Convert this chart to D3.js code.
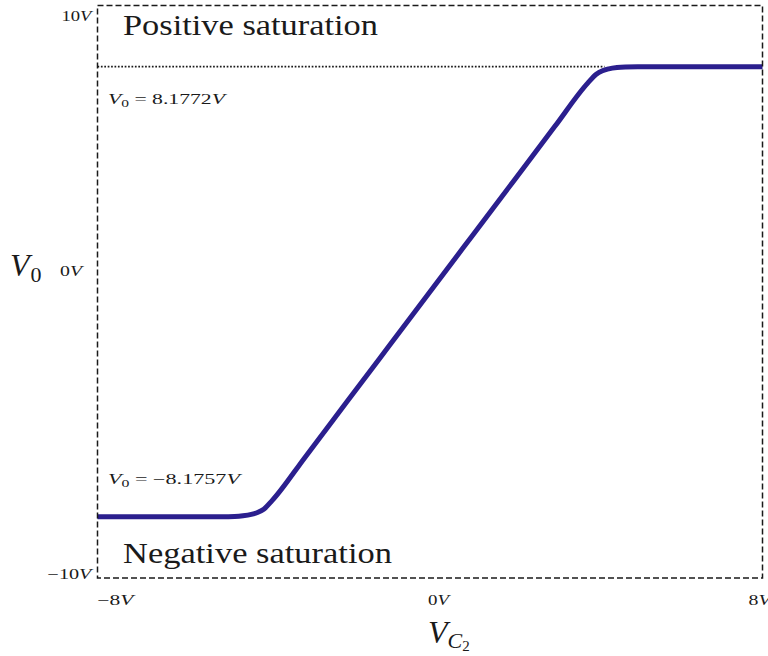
<!DOCTYPE html>
<html>
<head>
<meta charset="utf-8">
<script src="https://cdn.jsdelivr.net/npm/d3@7"></script>
<style>
  html, body { margin: 0; padding: 0; background: #fff; }
  svg { display: block; }
  text { font-family: "Liberation Serif", "DejaVu Serif", serif; fill: #1a1a1a; }
</style>
</head>
<body>
<svg id="chart" width="768" height="656"></svg>
<script>
// Transfer characteristic: input V_C2 (volts) against output V_0 (volts)
const vc2 = [-8, -6, -5, -4.7, -4.5, -4.3, -4.15, -4.0, -3.8, -3, -2, -1, 0, 1, 2, 3, 3.8, 4.0, 4.15, 4.3, 4.5, 4.7, 5, 6, 8];
const v0  = [-8.1757, -8.1757, -8.1757, -8.165, -8.14, -8.09, -8.02, -7.9, -7.59, -6.0, -4.0, -2.0, 0, 2.0, 4.0, 6.0, 7.59, 7.9, 8.03, 8.1, 8.15, 8.17, 8.1772, 8.1772, 8.1772];

const posSat = 8.1772;
const negSat = -8.1757;

const xTicks = [-8, 0, 8];
const xTickLabels = ["\u22128", "0", "8"];
const yTicks = [10, 0, -10];
const yTickLabels = ["10", "0", "\u221210"];

const svg = d3.select("#chart");
const mLeft = 97.5, mRight = 762.5, mTop = 5.5, mBottom = 578;

const x = d3.scaleLinear().domain([-8, 8]).range([mLeft, mRight]);
const y = d3.scaleLinear().domain([-10.4, 10.4]).range([mBottom, mTop]);

const ink = "#1a1a1a";

// Dotted guide at positive saturation level
svg.append("line")
  .attr("x1", x(-8)).attr("x2", x(4.2))
  .attr("y1", y(posSat)).attr("y2", y(posSat))
  .attr("stroke", ink).attr("stroke-width", 1.7)
  .attr("stroke-dasharray", "1.7,1.7");

// Output curve
const pts = vc2.map((d, i) => [d, v0[i]]);
svg.append("path")
  .datum(pts)
  .attr("fill", "none")
  .attr("stroke", "#2b1f8e")
  .attr("stroke-width", 5)
  .attr("stroke-linejoin", "round")
  .attr("d", d3.line().x(d => x(d[0])).y(d => y(d[1])).curve(d3.curveMonotoneX));

// Dashed frame
svg.append("rect")
  .attr("x", mLeft).attr("y", mTop)
  .attr("width", mRight - mLeft).attr("height", mBottom - mTop)
  .attr("fill", "none").attr("stroke", ink)
  .attr("stroke-width", 1.5).attr("stroke-dasharray", "6,3");

// Tick label helper: upright number followed by italic V
function voltLabel(sel, num, size, width) {
  sel.attr("font-size", size)
    .attr("textLength", width).attr("lengthAdjust", "spacingAndGlyphs");
  sel.append("tspan").text(num);
  sel.append("tspan").attr("font-style", "italic").text("V");
}

// Y tick labels
const yOffsets = { "10": 4, "0": -16, "-10": 12 };
const yWidths = { "10": 30, "0": 22, "-10": 44 };
yTicks.forEach((t, i) => {
  const tx = svg.append("text")
    .attr("x", t === 0 ? 60 : mLeft - 6 - yWidths[String(t)])
    .attr("y", y(t) + yOffsets[String(t)])
    .attr("text-anchor", "start");
  voltLabel(tx, yTickLabels[i], 14, yWidths[String(t)]);
});

// X tick labels
const xOffsets = { "-8": 0, "0": -2, "8": -14 };
const xWidths = { "-8": 36, "0": 21, "8": 22 };
xTicks.forEach((t, i) => {
  const tx = svg.append("text")
    .attr("x", x(t) + xOffsets[String(t)])
    .attr("y", 605)
    .attr("text-anchor", "start");
  voltLabel(tx, xTickLabels[i], 14, xWidths[String(t)]);
});

// Axis titles
const yTitle = svg.append("text").attr("x", 10).attr("y", 276).attr("font-size", 32);
yTitle.append("tspan").attr("font-style", "italic").text("V");
yTitle.append("tspan").attr("font-size", 22).attr("dx", 1).attr("dy", 6).text("0");

const xTitle = svg.append("text").attr("x", 428).attr("y", 643).attr("font-size", 32);
xTitle.append("tspan").attr("font-style", "italic").text("V");
xTitle.append("tspan").attr("font-size", 22).attr("font-style", "italic").attr("dy", 5).text("C");
xTitle.append("tspan").attr("font-size", 15).attr("dy", 3).text("2");

// Region labels
svg.append("text").attr("x", 123).attr("y", 35).attr("font-size", 29)
  .attr("textLength", 255).attr("lengthAdjust", "spacingAndGlyphs")
  .text("Positive saturation");
svg.append("text").attr("x", 123).attr("y", 563).attr("font-size", 29)
  .attr("textLength", 269).attr("lengthAdjust", "spacingAndGlyphs")
  .text("Negative saturation");

// Saturation value annotations
function satLabel(yPos, valueText, width) {
  const t = svg.append("text").attr("x", 108).attr("y", yPos).attr("font-size", 14)
    .attr("textLength", width).attr("lengthAdjust", "spacingAndGlyphs");
  t.append("tspan").attr("font-style", "italic").text("V");
  t.append("tspan").attr("font-size", 10).attr("dy", 3).text("0");
  t.append("tspan").attr("dy", -3).text(" = " + valueText);
  t.append("tspan").attr("font-style", "italic").text("V");
}
satLabel(y(posSat) + 37, "8.1772", 117);
satLabel(y(negSat) - 33, "\u22128.1757", 132);
</script>
</body>
</html>
